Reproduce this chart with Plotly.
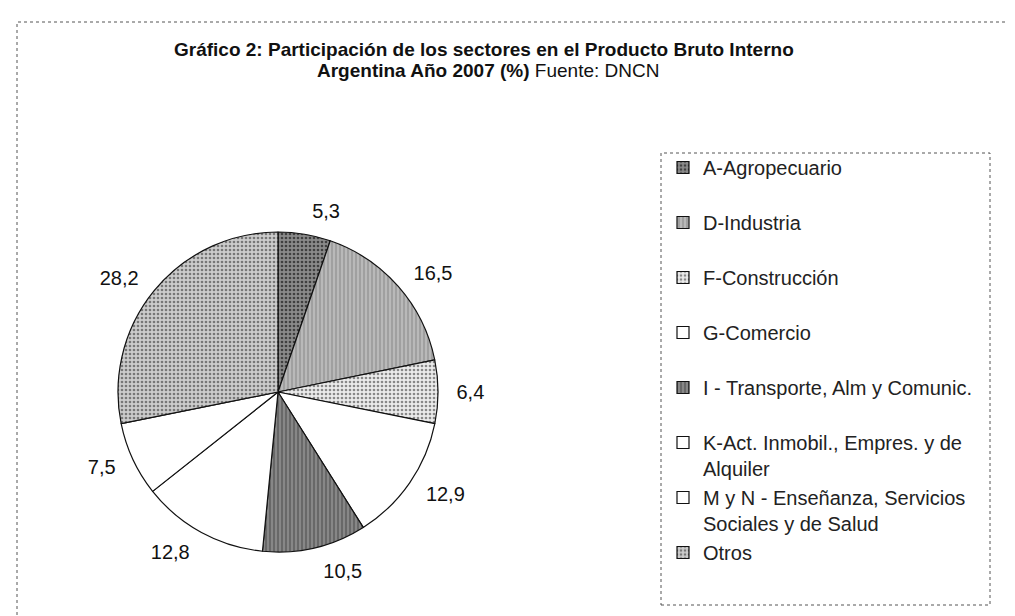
import plotly.graph_objects as go

sectores = [
    "A-Agropecuario",
    "D-Industria",
    "F-Construcción",
    "G-Comercio",
    "I - Transporte, Alm y Comunic.",
    "K-Act. Inmobil., Empres. y de<br>Alquiler",
    "M y N - Enseñanza, Servicios<br>Sociales y de Salud",
    "Otros",
]
participacion = [5.3, 16.5, 6.4, 12.9, 10.5, 12.8, 7.5, 28.2]

colores = ["#8a8a8a", "#a0a0a0", "#ebebeb", "#ffffff", "#878787", "#ffffff", "#ffffff", "#cccccc"]
patrones = [".", "|", ".", "", "|", "", "", "."]
fg = ["#404040", "#c4c4c4", "#888888", "#ffffff", "#5a5a5a", "#ffffff", "#ffffff", "#777777"]

W, H = 1015, 616
def px(x):
    return x / W
def py(y):
    return 1 - y / H

# legend labels padded to two lines so the entries are evenly spaced
leg_labels = [s if "<br>" in s else s + "<br> " for s in sectores]

# pie geometry (pixels): centre and radius, label ring a bit outside the pie
CX, CY, R, R_LAB = 270, 384, 160, 173

pie_slices = go.Pie(
    labels=leg_labels,
    values=participacion,
    sort=False,
    direction="clockwise",
    rotation=0,
    textinfo="none",
    marker=dict(
        colors=colores,
        line=dict(color="#111111", width=1.2),
        pattern=dict(shape=patrones, fgcolor=fg, bgcolor=colores, size=4, solidity=0.35),
    ),
    domain=dict(x=[px(CX - R), px(CX + R)], y=[py(CY + R), py(CY - R)]),
    hoverinfo="label+value",
)

# transparent twin pie, slightly larger, that carries the outside value labels
pie_labels = go.Pie(
    labels=leg_labels,
    values=participacion,
    sort=False,
    direction="clockwise",
    rotation=0,
    texttemplate="%{value:.1f}",
    textposition="outside",
    textfont=dict(size=20, color="#111111", family="Liberation Sans, Arial"),
    marker=dict(colors=["rgba(0,0,0,0)"] * len(participacion), line=dict(width=0)),
    domain=dict(x=[px(CX - R_LAB), px(CX + R_LAB)], y=[py(CY + R_LAB), py(CY - R_LAB)]),
    showlegend=False,
    hoverinfo="skip",
)

fig = go.Figure([pie_slices, pie_labels])

fig.update_layout(
    width=W,
    height=H,
    margin=dict(l=0, r=0, t=0, b=0),
    paper_bgcolor="white",
    plot_bgcolor="white",
    separators=",.",
    font=dict(family="Liberation Sans, Arial", color="#111111"),
    showlegend=True,
    legend=dict(
        x=px(655),
        y=py(140),
        xanchor="left",
        yanchor="top",
        valign="top",
        font=dict(size=20, family="Liberation Sans, Arial", color="#222222"),
        bgcolor="rgba(0,0,0,0)",
        borderwidth=0,
        traceorder="normal",
    ),
    annotations=[
        dict(
            x=px(476), y=py(42), xref="paper", yref="paper", xanchor="center", yanchor="middle",
            text="<b>Gráfico 2: Participación de los sectores en el Producto Bruto Interno</b>",
            showarrow=False, font=dict(size=19, color="#111111"),
        ),
        dict(
            x=px(480), y=py(62), xref="paper", yref="paper", xanchor="center", yanchor="middle",
            text="<b>Argentina Año 2007 (%)</b> Fuente: DNCN",
            showarrow=False, font=dict(size=19, color="#111111"),
        ),
    ],
    shapes=[
        # outer frame (cropped at right and bottom in the reference)
        dict(type="rect", xref="paper", yref="paper", x0=px(9), y0=py(640), x1=px(1030), y1=py(14),
             line=dict(color="#555555", width=1, dash="dot")),
        # legend box
        dict(type="rect", xref="paper", yref="paper", x0=px(653), y0=py(597), x1=px(982), y1=py(145),
             line=dict(color="#555555", width=1, dash="dot")),
    ],
)

fig.write_html("out.html")
